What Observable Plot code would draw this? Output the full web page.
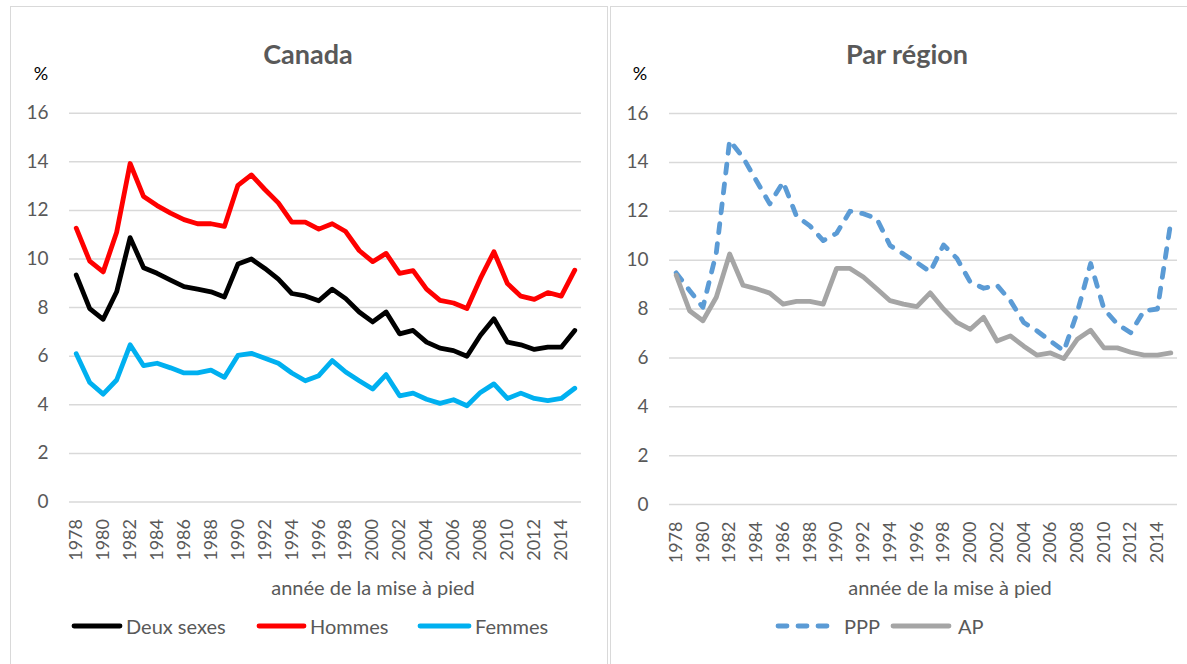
<!DOCTYPE html>
<html>
<head>
<meta charset="utf-8">
<script src="https://cdn.jsdelivr.net/npm/d3@7"></script>
<script src="https://cdn.jsdelivr.net/npm/@observablehq/plot@0.6"></script>
<style>
  body { margin: 0; background: #fff; }
  #root { position: relative; width: 1187px; height: 664px; overflow: hidden; background: #fff; font-family: Lato, "Liberation Sans", sans-serif; }
  .box { position: absolute; border: 1.5px solid #d9d9d9; }
  .abs { position: absolute; white-space: nowrap; }
  .title { font-weight: bold; font-size: 27px; color: #595959; transform: translate(-50%, -50%); }
  .pct { font-size: 18px; color: #000; transform: translate(-50%, -50%); }
  .xlab { font-size: 20px; color: #595959; transform: translate(-50%, -50%); }
  .leg { font-size: 20px; color: #595959; transform: translateY(-50%); display: flex; align-items: center; }
  .leg svg { display: block; }
  .plot { position: absolute; top: 0; }
</style>
</head>
<body>
<div id="root">
  <div class="box" style="left:10px; top:6px; width:596px; height:680px;"></div>
  <div class="box" style="left:610px; top:6px; width:600px; height:680px;"></div>
  <div class="abs title" style="left:308px; top:53px;">Canada</div>
  <div class="abs title" style="left:907px; top:53px;">Par région</div>
  <div class="abs pct" style="left:41px; top:73px;">%</div>
  <div class="abs pct" style="left:640px; top:73px;">%</div>
  <div class="abs xlab" style="left:373px; top:587px;">année de la mise à pied</div>
  <div class="abs xlab" style="left:950px; top:587px;">année de la mise à pied</div>
  <div id="legL"></div>
  <div id="legR"></div>
  <div id="plotL" class="plot" style="left:0px;"></div>
  <div id="plotR" class="plot" style="left:600px;"></div>
</div>
<script>
const years = [1978,1979,1980,1981,1982,1983,1984,1985,1986,1987,1988,1989,
  1990,1991,1992,1993,1994,1995,1996,1997,1998,1999,
  2000,2001,2002,2003,2004,2005,2006,2007,2008,2009,
  2010,2011,2012,2013,2014,2015];
const tickYears = [1978,1980,1982,1984,1986,1988,1990,1992,1994,1996,1998,2000,2002,2004,2006,2008,2010,2012,2014];
const yTicks = [0,2,4,6,8,10,12,14,16];

const deuxSexes = [9.34,7.96,7.52,8.65,10.88,9.64,9.41,9.13,8.86,8.76,8.65,8.44,
  9.79,10.0,9.61,9.17,8.58,8.48,8.28,8.76,8.37,7.82,
  7.41,7.82,6.92,7.06,6.58,6.33,6.23,6.0,6.86,7.54,
  6.58,6.47,6.28,6.37,6.37,7.06];
const hommes = [11.27,9.91,9.47,11.1,13.93,12.57,12.2,11.89,11.62,11.45,11.45,11.34,
  13.03,13.46,12.86,12.31,11.52,11.52,11.23,11.45,11.13,10.35,
  9.89,10.23,9.41,9.52,8.76,8.3,8.19,7.96,9.2,10.3,
  8.99,8.47,8.34,8.62,8.47,9.54];
const femmes = [6.1,4.92,4.44,5.02,6.47,5.61,5.71,5.52,5.31,5.31,5.43,5.13,
  6.03,6.12,5.92,5.71,5.31,4.99,5.2,5.82,5.35,4.99,
  4.65,5.24,4.37,4.48,4.23,4.06,4.21,3.96,4.51,4.86,
  4.26,4.48,4.26,4.17,4.26,4.68];
const ppp = [9.48,8.76,8.07,10.3,14.9,14.2,13.25,12.3,13.2,11.8,11.4,10.8,
  11.1,12.0,11.9,11.7,10.6,10.25,9.9,9.52,10.62,10.07,
  9.1,8.85,8.97,8.34,7.45,7.1,6.69,6.28,7.86,9.86,
  8.0,7.38,7.03,7.93,8.0,11.56];
const ap = [9.38,7.93,7.52,8.48,10.25,8.97,8.83,8.65,8.2,8.31,8.31,8.2,
  9.66,9.66,9.31,8.83,8.34,8.2,8.1,8.66,8.0,7.45,
  7.17,7.66,6.69,6.9,6.48,6.11,6.2,5.97,6.76,7.13,
  6.41,6.41,6.23,6.11,6.11,6.2];

const seriesL = [
  {name: "Deux sexes", values: deuxSexes, color: "#000000", dash: null},
  {name: "Hommes", values: hommes, color: "#ff0000", dash: null},
  {name: "Femmes", values: femmes, color: "#00b0f0", dash: null}
];
const seriesR = [
  {name: "PPP", values: ppp, color: "#5b9bd5", dash: "9,11"},
  {name: "AP", values: ap, color: "#a5a5a5", dash: null}
];

function makePlot(series, opts) {
  const marks = [
    Plot.ruleY(yTicks, {stroke: "#d9d9d9", strokeWidth: 1.5}),
    Plot.axisY({ticks: yTicks, tickSize: 0, tickPadding: 21, fontSize: 19, label: null}),
    Plot.axisX({ticks: tickYears, tickSize: 0, tickPadding: 17, tickRotate: -90, fontSize: 18, label: null, tickFormat: d => String(d)})
  ];
  for (const s of series) {
    const data = years.map((y, i) => ({year: y, value: s.values[i]}));
    marks.push(Plot.line(data, {
      x: "year", y: "value", stroke: s.color, strokeWidth: 4.8,
      strokeLinejoin: "round", strokeLinecap: "round",
      strokeDasharray: s.dash || undefined
    }));
  }
  return Plot.plot({
    width: opts.width, height: 664,
    marginLeft: 69, marginRight: opts.marginRight,
    marginTop: opts.marginTop, marginBottom: opts.marginBottom,
    x: {type: "point", domain: years, padding: 0.5, round: false},
    y: {domain: [0, 16]},
    style: {color: "#595959", fontFamily: "Lato, 'Liberation Sans', sans-serif", background: "transparent", overflow: "visible"},
    marks
  });
}

document.getElementById("plotL").appendChild(
  makePlot(seriesL, {width: 607, marginRight: 26, marginTop: 112.7, marginBottom: 162.5}));
document.getElementById("plotR").appendChild(
  makePlot(seriesR, {width: 587, marginRight: 10, marginTop: 113, marginBottom: 160}));

function legend(el, items, top) {
  const root = document.getElementById(el);
  for (const it of items) {
    const d = document.createElement("div");
    d.className = "abs leg";
    d.style.left = it.x + "px";
    d.style.top = top + "px";
    const w = it.w;
    const dash = it.dash ? `stroke-dasharray="${it.dash}"` : "";
    d.innerHTML = `<svg width="${w}" height="10"><line x1="3" x2="${w - 3}" y1="5" y2="5" stroke="${it.color}" stroke-width="4.8" stroke-linecap="round" ${dash}/></svg><span style="margin-left:${it.gap}px">${it.name}</span>`;
    root.appendChild(d);
  }
}
legend("legL", [
  {x: 71, w: 52, gap: 3, color: seriesL[0].color, name: seriesL[0].name},
  {x: 256, w: 51, gap: 3, color: seriesL[1].color, name: seriesL[1].name},
  {x: 417, w: 55, gap: 3, color: seriesL[2].color, name: seriesL[2].name}
], 626);
legend("legR", [
  {x: 775, w: 60, gap: 9, color: seriesR[0].color, dash: "9,11", name: seriesR[0].name},
  {x: 890, w: 62, gap: 6, color: seriesR[1].color, name: seriesR[1].name}
], 626);
</script>
</body>
</html>
